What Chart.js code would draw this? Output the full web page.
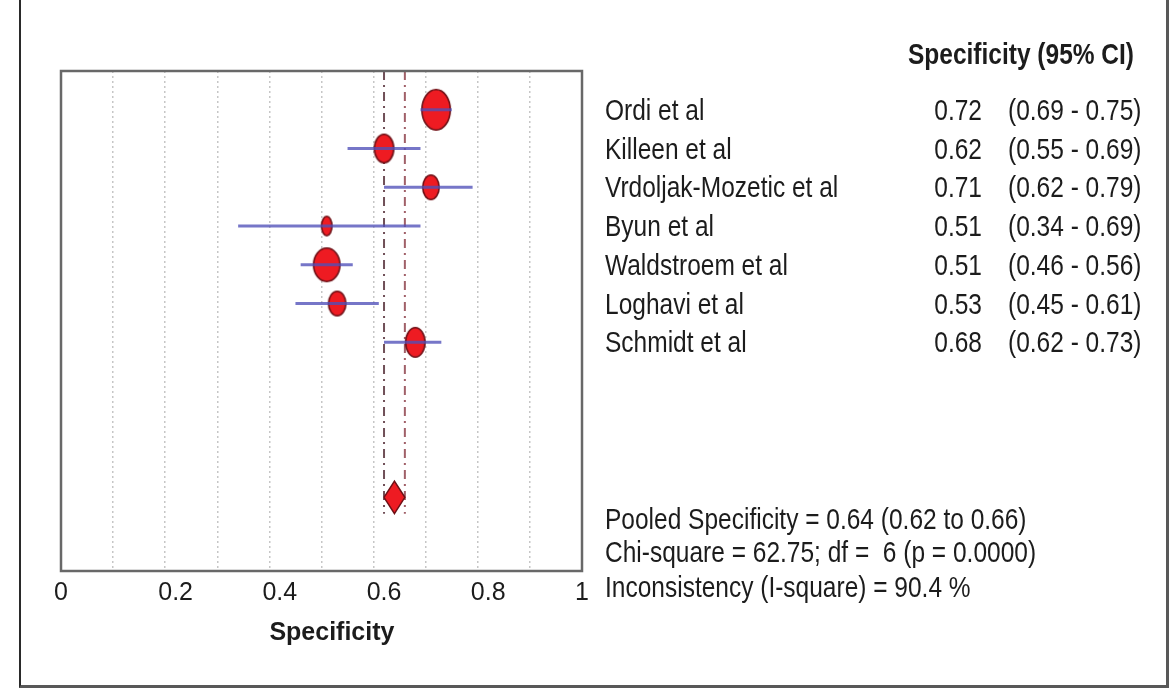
<!DOCTYPE html>
<html>
<head>
<meta charset="utf-8">
<title>Specificity forest plot</title>
<script src="https://cdn.jsdelivr.net/npm/chart.js@4.4.0/dist/chart.umd.min.js"></script>
<style>
  body { margin: 0; background: #fff; width: 1176px; height: 689px; overflow: hidden; position: relative;
         font-family: "Liberation Sans", Arial, sans-serif; color: #1c1c1c; }
  #frame { position: absolute; left: 19px; top: -4px; width: 1150px; height: 692px; box-sizing: border-box;
           border-left: 2px solid #2a2a2a; border-right: 3px solid #585858; border-bottom: 3px solid #585858; }
  #chart { position: absolute; left: 0; top: 0; }
  .txt { position: absolute; white-space: pre; font-size: 24.5px; line-height: 30px; height: 30px; transform: scaleY(1.22); }
  .bold { font-weight: bold; }
</style>
</head>
<body>
<div id="frame"></div>
<canvas id="chart" width="1176" height="689"></canvas>
<script>
// --- DATA ---
const studies = ['Ordi et al', 'Killeen et al', 'Vrdoljak-Mozetic et al', 'Byun et al',
                 'Waldstroem et al', 'Loghavi et al', 'Schmidt et al'];
const specificity = [0.72, 0.62, 0.71, 0.51, 0.51, 0.53, 0.68];
const ciLower     = [0.69, 0.55, 0.62, 0.34, 0.46, 0.45, 0.62];
const ciUpper     = [0.75, 0.69, 0.79, 0.69, 0.56, 0.61, 0.73];

const pooledEstimate = 0.64;
const pooledLower = 0.62;
const pooledUpper = 0.66;
const chiSquare = 62.75;
const degreesFreedom = 6;
const pValue = '0.0000';
const iSquare = 90.4;

const xTickLabels = ['0', '0.2', '0.4', '0.6', '0.8', '1'];

// --- STYLE ---
const RED = '#ee1b22';
const MAROON = '#6e1016';
const CI_COLOR = 'rgba(80, 80, 185, 0.78)';
const POOLED_ROW = 11;
const DIAMOND_HALF = 0.42;
// marker half-width / half-height in px (study weight boxes)
const markerRx = [15, 10.5, 9, 6, 14, 9.5, 10.5];
const markerRy = [21, 15, 13, 10.5, 17.5, 13, 15.5];

function ellipseMarker(rx, ry) {
    const c = document.createElement('canvas');
    c.width = Math.round(2 * rx + 4);
    c.height = Math.round(2 * ry + 4);
    const g = c.getContext('2d');
    g.beginPath();
    g.ellipse(c.width / 2, c.height / 2, rx - 0.8, ry - 0.8, 0, 0, Math.PI * 2);
    g.fillStyle = RED;
    g.fill();
    g.lineWidth = 1.6;
    g.strokeStyle = MAROON;
    g.stroke();
    return c;
}

// CI segments, one per study
const ciDatasets = studies.map((name, i) => ({
    label: name + ' CI',
    data: [{ x: ciLower[i], y: i + 1 }, { x: ciUpper[i], y: i + 1 }],
    showLine: true,
    borderColor: CI_COLOR,
    borderWidth: 3,
    pointRadius: 0,
    order: 0
}));

// pooled CI dashed verticals
const pooledLines = [pooledLower, pooledUpper].map((v, k) => ({
    label: 'pooled bound ' + k,
    data: [{ x: v, y: 0 }, { x: v, y: POOLED_ROW + DIAMOND_HALF }],
    showLine: true,
    borderColor: k === 0 ? '#705058' : '#a06068',
    borderWidth: 2,
    borderDash: [9, 5, 2, 5],
    pointRadius: 0,
    order: 2
}));

const boxPlugin = {
    id: 'plotBox',
    afterDraw(chart) {
        const { ctx, chartArea: a } = chart;
        ctx.save();
        ctx.strokeStyle = '#686868';
        ctx.lineWidth = 2.5;
        ctx.strokeRect(a.left, a.top, a.right - a.left, a.bottom - a.top);
        ctx.restore();
    }
};

const chart = new Chart(document.getElementById('chart'), {
    type: 'scatter',
    data: {
        datasets: [
            ...ciDatasets,
            {
                label: 'Specificity',
                data: specificity.map((v, i) => ({ x: v, y: i + 1 })),
                pointStyle: markerRx.map((rx, i) => ellipseMarker(rx, markerRy[i])),
                pointRadius: markerRy,
                order: 1
            },
            ...pooledLines,
            {
                label: 'Pooled',
                data: [
                    { x: pooledLower, y: POOLED_ROW },
                    { x: pooledEstimate, y: POOLED_ROW - DIAMOND_HALF },
                    { x: pooledUpper, y: POOLED_ROW },
                    { x: pooledEstimate, y: POOLED_ROW + DIAMOND_HALF },
                    { x: pooledLower, y: POOLED_ROW }
                ],
                showLine: true,
                fill: 'shape',
                backgroundColor: RED,
                borderColor: MAROON,
                borderWidth: 1.5,
                pointRadius: 0,
                order: 0
            }
        ]
    },
    options: {
        responsive: false,
        devicePixelRatio: 1,
        animation: false,
        events: [],
        layout: { padding: { left: 61, top: 71, right: 594, bottom: 0 } },
        plugins: { legend: { display: false }, tooltip: { enabled: false } },
        scales: {
            x: {
                type: 'linear',
                position: 'bottom',
                min: 0,
                max: 1,
                afterFit: s => { s.height = 118; },
                ticks: {
                    stepSize: 0.1,
                    autoSkip: false,
                    maxRotation: 0,
                    padding: 7,
                    color: '#1c1c1c',
                    font: { family: '"Liberation Sans", Arial, sans-serif', size: 25 },
                    callback: value => {
                        const k = Math.round(value * 10);
                        if (k % 2) return '';
                        const label = xTickLabels[k / 2];
                        return (k === 0 || k === 10) ? label : '   ' + label;
                    }
                },
                grid: {
                    drawTicks: false,
                    lineWidth: 1.5,
                    color: ctx => {
                        const k = Math.round((ctx.tick ? ctx.tick.value : 0) * 10);
                        return (k === 0 || k === 10) ? 'rgba(0,0,0,0)' : '#c6c6c6';
                    }
                },
                border: { display: false, dash: [2, 3] },
                title: {
                    display: true,
                    text: '   Specificity',
                    color: '#1c1c1c',
                    font: { family: '"Liberation Sans", Arial, sans-serif', size: 25, weight: 'bold' },
                    padding: { top: 0, bottom: 41 }
                }
            },
            y: {
                type: 'linear',
                display: false,
                reverse: true,
                min: 0,
                max: 12.9
            }
        }
    },
    plugins: [boxPlugin]
});

// --- TEXT TABLE (right side) ---
function addText(str, x, yCenter, align, bold) {
    const d = document.createElement('div');
    d.className = 'txt' + (bold ? ' bold' : '');
    d.textContent = str;
    d.style.top = (yCenter - 15) + 'px';
    if (align === 'right') d.style.right = (1176 - x) + 'px';
    else d.style.left = x + 'px';
    document.body.appendChild(d);
}

addText('Specificity (95% CI)', 908, 54, 'left', true);
studies.forEach((name, i) => {
    const y = chart.scales.y.getPixelForValue(i + 1);
    addText(name, 605, y, 'left');
    addText(specificity[i].toFixed(2), 982, y, 'right');
    addText('(' + ciLower[i].toFixed(2) + ' - ' + ciUpper[i].toFixed(2) + ')', 1008, y, 'left');
});

const summaryLines = [
    'Pooled Specificity = ' + pooledEstimate.toFixed(2) + ' (' + pooledLower.toFixed(2) + ' to ' + pooledUpper.toFixed(2) + ')',
    'Chi-square = ' + chiSquare.toFixed(2) + '; df =  ' + degreesFreedom + ' (p = ' + pValue + ')',
    'Inconsistency (I-square) = ' + iSquare.toFixed(1) + ' %'
];
[519, 552, 587].forEach((y, i) => addText(summaryLines[i], 605, y, 'left'));
</script>
</body>
</html>
